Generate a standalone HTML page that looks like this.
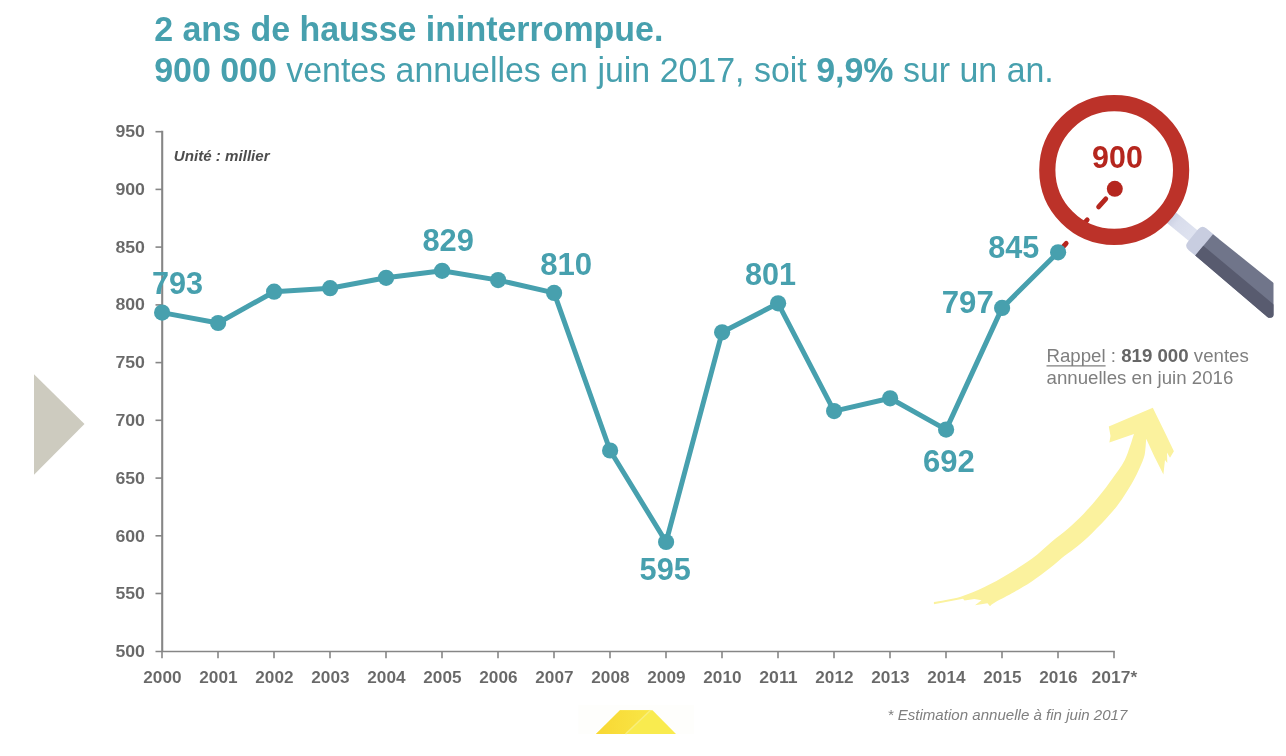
<!DOCTYPE html>
<html lang="fr"><head><meta charset="utf-8"><title>Ventes annuelles</title>
<style>
html,body{margin:0;padding:0;background:#fff;}
body{width:1286px;height:756px;overflow:hidden;position:relative;font-family:"Liberation Sans",sans-serif;}
svg{position:absolute;left:0;top:0;display:block;filter:blur(0.55px)}
text{font-family:"Liberation Sans",sans-serif;}
.ax{font-weight:bold;font-size:16.1px;fill:#686868;stroke:#fff;stroke-width:0.05px;paint-order:fill stroke}
.dl{font-weight:bold;font-size:30.8px;fill:#47a0ae}
</style></head><body>
<svg width="1286" height="756" viewBox="0 0 1286 756">

<text x="154.2" y="41.1" font-size="34.6" fill="#47a0ae" font-weight="bold" textLength="509.2" lengthAdjust="spacingAndGlyphs">2 ans de hausse ininterrompue.</text>
<text x="154.2" y="81.5" font-size="34.6" fill="#47a0ae" textLength="899.6" lengthAdjust="spacingAndGlyphs"><tspan font-weight="bold">900 000</tspan> ventes annuelles en juin 2017, soit <tspan font-weight="bold">9,9%</tspan> sur un an.</text>
<polygon points="34,374.3 84.5,424 34,474.8" fill="#cdcbbf"/>
<rect x="578.5" y="705" width="115.5" height="29" fill="#fefefc"/>
<defs><linearGradient id="yg" x1="0" x2="1" y1="0" y2="0"><stop offset="0" stop-color="#f8d733"/><stop offset="1" stop-color="#f9e646"/></linearGradient></defs>
<polygon points="596,734 620,710.2 652.5,710.2 676,734" fill="#f9eb4f"/>
<polygon points="596,734 620,710.2 650.3,710.2 625.3,734" fill="url(#yg)"/>
<line x1="650.5" y1="710.2" x2="625.5" y2="734" stroke="#f8ee7c" stroke-width="1.5"/>
<g stroke="#868686" stroke-width="1.6" fill="none">
<line x1="162.2" y1="130.8" x2="162.2" y2="651.5" stroke-width="2.1"/>
<line x1="155.5" y1="651.5" x2="1114.8" y2="651.5"/>
<line x1="155.5" y1="131.7" x2="162.0" y2="131.7"/>
<line x1="155.5" y1="189.4" x2="162.0" y2="189.4"/>
<line x1="155.5" y1="247.1" x2="162.0" y2="247.1"/>
<line x1="155.5" y1="304.9" x2="162.0" y2="304.9"/>
<line x1="155.5" y1="362.6" x2="162.0" y2="362.6"/>
<line x1="155.5" y1="420.3" x2="162.0" y2="420.3"/>
<line x1="155.5" y1="478.1" x2="162.0" y2="478.1"/>
<line x1="155.5" y1="535.8" x2="162.0" y2="535.8"/>
<line x1="155.5" y1="593.5" x2="162.0" y2="593.5"/>
<line x1="162.0" y1="651.5" x2="162.0" y2="658.2"/>
<line x1="218.0" y1="651.5" x2="218.0" y2="658.2"/>
<line x1="274.0" y1="651.5" x2="274.0" y2="658.2"/>
<line x1="330.0" y1="651.5" x2="330.0" y2="658.2"/>
<line x1="386.0" y1="651.5" x2="386.0" y2="658.2"/>
<line x1="442.0" y1="651.5" x2="442.0" y2="658.2"/>
<line x1="498.0" y1="651.5" x2="498.0" y2="658.2"/>
<line x1="554.0" y1="651.5" x2="554.0" y2="658.2"/>
<line x1="610.0" y1="651.5" x2="610.0" y2="658.2"/>
<line x1="666.0" y1="651.5" x2="666.0" y2="658.2"/>
<line x1="722.0" y1="651.5" x2="722.0" y2="658.2"/>
<line x1="778.0" y1="651.5" x2="778.0" y2="658.2"/>
<line x1="834.0" y1="651.5" x2="834.0" y2="658.2"/>
<line x1="890.0" y1="651.5" x2="890.0" y2="658.2"/>
<line x1="946.0" y1="651.5" x2="946.0" y2="658.2"/>
<line x1="1002.0" y1="651.5" x2="1002.0" y2="658.2"/>
<line x1="1058.0" y1="651.5" x2="1058.0" y2="658.2"/>
<line x1="1114.0" y1="651.5" x2="1114.0" y2="658.2"/>
</g>
<text class="ax" x="145" y="137.0" text-anchor="end" textLength="29.6" lengthAdjust="spacingAndGlyphs">950</text>
<text class="ax" x="145" y="194.8" text-anchor="end" textLength="29.6" lengthAdjust="spacingAndGlyphs">900</text>
<text class="ax" x="145" y="252.6" text-anchor="end" textLength="29.6" lengthAdjust="spacingAndGlyphs">850</text>
<text class="ax" x="145" y="310.3" text-anchor="end" textLength="29.6" lengthAdjust="spacingAndGlyphs">800</text>
<text class="ax" x="145" y="368.1" text-anchor="end" textLength="29.6" lengthAdjust="spacingAndGlyphs">750</text>
<text class="ax" x="145" y="425.9" text-anchor="end" textLength="29.6" lengthAdjust="spacingAndGlyphs">700</text>
<text class="ax" x="145" y="483.7" text-anchor="end" textLength="29.6" lengthAdjust="spacingAndGlyphs">650</text>
<text class="ax" x="145" y="541.5" text-anchor="end" textLength="29.6" lengthAdjust="spacingAndGlyphs">600</text>
<text class="ax" x="145" y="599.2" text-anchor="end" textLength="29.6" lengthAdjust="spacingAndGlyphs">550</text>
<text class="ax" x="145" y="657.0" text-anchor="end" textLength="29.6" lengthAdjust="spacingAndGlyphs">500</text>
<text class="ax" x="162.4" y="682.8" text-anchor="middle" textLength="38.3" lengthAdjust="spacingAndGlyphs">2000</text>
<text class="ax" x="218.4" y="682.8" text-anchor="middle" textLength="38.3" lengthAdjust="spacingAndGlyphs">2001</text>
<text class="ax" x="274.4" y="682.8" text-anchor="middle" textLength="38.3" lengthAdjust="spacingAndGlyphs">2002</text>
<text class="ax" x="330.4" y="682.8" text-anchor="middle" textLength="38.3" lengthAdjust="spacingAndGlyphs">2003</text>
<text class="ax" x="386.4" y="682.8" text-anchor="middle" textLength="38.3" lengthAdjust="spacingAndGlyphs">2004</text>
<text class="ax" x="442.4" y="682.8" text-anchor="middle" textLength="38.3" lengthAdjust="spacingAndGlyphs">2005</text>
<text class="ax" x="498.4" y="682.8" text-anchor="middle" textLength="38.3" lengthAdjust="spacingAndGlyphs">2006</text>
<text class="ax" x="554.4" y="682.8" text-anchor="middle" textLength="38.3" lengthAdjust="spacingAndGlyphs">2007</text>
<text class="ax" x="610.4" y="682.8" text-anchor="middle" textLength="38.3" lengthAdjust="spacingAndGlyphs">2008</text>
<text class="ax" x="666.4" y="682.8" text-anchor="middle" textLength="38.3" lengthAdjust="spacingAndGlyphs">2009</text>
<text class="ax" x="722.4" y="682.8" text-anchor="middle" textLength="38.3" lengthAdjust="spacingAndGlyphs">2010</text>
<text class="ax" x="778.4" y="682.8" text-anchor="middle" textLength="38.3" lengthAdjust="spacingAndGlyphs">2011</text>
<text class="ax" x="834.4" y="682.8" text-anchor="middle" textLength="38.3" lengthAdjust="spacingAndGlyphs">2012</text>
<text class="ax" x="890.4" y="682.8" text-anchor="middle" textLength="38.3" lengthAdjust="spacingAndGlyphs">2013</text>
<text class="ax" x="946.4" y="682.8" text-anchor="middle" textLength="38.3" lengthAdjust="spacingAndGlyphs">2014</text>
<text class="ax" x="1002.4" y="682.8" text-anchor="middle" textLength="38.3" lengthAdjust="spacingAndGlyphs">2015</text>
<text class="ax" x="1058.4" y="682.8" text-anchor="middle" textLength="38.3" lengthAdjust="spacingAndGlyphs">2016</text>
<text class="ax" x="1114.4" y="682.8" text-anchor="middle" textLength="45.6" lengthAdjust="spacingAndGlyphs">2017*</text>
<text x="173.8" y="161" font-size="15.1" font-weight="bold" font-style="italic" fill="#4d4d4d" textLength="95.8" lengthAdjust="spacingAndGlyphs">Unité : millier</text>
<g stroke="#b5261e" stroke-width="4.8" stroke-linecap="round">
<line x1="1105.8" y1="198.9" x2="1098.6" y2="206.9"/>
<line x1="1087.2" y1="219.8" x2="1076.8" y2="231.3"/>
<line x1="1066.2" y1="243.3" x2="1058.1" y2="252.3"/>
</g>
<defs><clipPath id="pc"><path d="M1100,100 H1273.5 V314.5 Q1273.5,317.8 1270,317.8 H1100 Z"/></clipPath>
<linearGradient id="nk" x1="0" x2="1" y1="0" y2="0"><stop offset="0" stop-color="#c6cbde"/><stop offset="0.35" stop-color="#d9ddec"/><stop offset="1" stop-color="#dfe3f0"/></linearGradient></defs>
<g clip-path="url(#pc)"><g transform="translate(1114.4 170.5) rotate(39.6)">
<rect x="70" y="-6.9" width="34" height="13.8" fill="url(#nk)"/>
<path d="M108,-14 H124 V14 H108 Q102,14 102,8 V-8 Q102,-14 108,-14 Z" fill="#c8cde0"/>
<polygon points="116.5,-13.8 240,-15.4 240,15.8 116.5,13.9" fill="#70758a"/>
<polygon points="116.5,1.3 240,1.8 240,15.8 116.5,13.9" fill="#585b6f"/>
</g></g>
<circle cx="1114.2" cy="170.0" r="66.9" fill="none" stroke="#bc3229" stroke-width="16.2"/>
<polyline fill="none" stroke="#47a0ae" stroke-width="5" stroke-linejoin="round" points="162.1,312.6 218.1,323.0 274.1,291.7 330.1,288.2 386.1,277.8 442.1,270.8 498.1,280.1 554.1,292.9 610.1,450.5 666.1,542.0 722.1,332.3 778.1,303.3 834.1,411.1 890.1,398.3 946.1,429.6 1002.1,307.9 1058.1,252.3"/>
<circle cx="162.1" cy="312.6" r="8.1" fill="#47a0ae"/>
<circle cx="218.1" cy="323.0" r="8.1" fill="#47a0ae"/>
<circle cx="274.1" cy="291.7" r="8.1" fill="#47a0ae"/>
<circle cx="330.1" cy="288.2" r="8.1" fill="#47a0ae"/>
<circle cx="386.1" cy="277.8" r="8.1" fill="#47a0ae"/>
<circle cx="442.1" cy="270.8" r="8.1" fill="#47a0ae"/>
<circle cx="498.1" cy="280.1" r="8.1" fill="#47a0ae"/>
<circle cx="554.1" cy="292.9" r="8.1" fill="#47a0ae"/>
<circle cx="610.1" cy="450.5" r="8.1" fill="#47a0ae"/>
<circle cx="666.1" cy="542.0" r="8.1" fill="#47a0ae"/>
<circle cx="722.1" cy="332.3" r="8.1" fill="#47a0ae"/>
<circle cx="778.1" cy="303.3" r="8.1" fill="#47a0ae"/>
<circle cx="834.1" cy="411.1" r="8.1" fill="#47a0ae"/>
<circle cx="890.1" cy="398.3" r="8.1" fill="#47a0ae"/>
<circle cx="946.1" cy="429.6" r="8.1" fill="#47a0ae"/>
<circle cx="1002.1" cy="307.9" r="8.1" fill="#47a0ae"/>
<circle cx="1058.1" cy="252.3" r="8.1" fill="#47a0ae"/>
<circle cx="1114.8" cy="188.8" r="8" fill="#b5261e"/>
<text class="dl" x="151.9" y="294.3" textLength="51.1" lengthAdjust="spacingAndGlyphs">793</text>
<text class="dl" x="422.4" y="251.3" textLength="51.4" lengthAdjust="spacingAndGlyphs">829</text>
<text class="dl" x="540.2" y="274.7" textLength="52.0" lengthAdjust="spacingAndGlyphs">810</text>
<text class="dl" x="639.6" y="579.8" textLength="51.2" lengthAdjust="spacingAndGlyphs">595</text>
<text class="dl" x="745.0" y="285.2" textLength="51.1" lengthAdjust="spacingAndGlyphs">801</text>
<text class="dl" x="922.9" y="471.5" textLength="51.8" lengthAdjust="spacingAndGlyphs">692</text>
<text class="dl" x="941.8" y="312.5" textLength="51.9" lengthAdjust="spacingAndGlyphs">797</text>
<text class="dl" x="988.3" y="257.8" textLength="51.0" lengthAdjust="spacingAndGlyphs">845</text>
<text class="dl" x="1092.1" y="167.5" style="fill:#b5261e" textLength="50.7" lengthAdjust="spacingAndGlyphs">900</text>
<text x="1046.5" y="362.3" font-size="18.67" fill="#7f7f7f" textLength="202.3" lengthAdjust="spacingAndGlyphs">Rappel : <tspan font-weight="bold" fill="#666">819 000</tspan> ventes</text>
<text x="1046.5" y="384.2" font-size="18.67" fill="#7f7f7f" textLength="186.8" lengthAdjust="spacingAndGlyphs">annuelles en juin 2016</text>
<line x1="1046.5" y1="365.8" x2="1105.6" y2="365.8" stroke="#7f7f7f" stroke-width="1.2"/>
<text x="887.6" y="720.1" font-size="15.03" font-style="italic" fill="#7f7f7f" textLength="239.8" lengthAdjust="spacingAndGlyphs">* Estimation annuelle à fin juin 2017</text>
<path fill="#fbf29e" d="M933.9,602.0 C938.4,601.1 952.3,599.2 960.7,596.7 C969.1,594.2 976.6,590.9 984.5,587.1 C992.4,583.3 1000.4,578.8 1008.3,574.0 C1016.2,569.2 1024.9,564.0 1032.1,558.6 C1039.3,553.2 1045.8,546.6 1051.7,541.7 C1057.6,536.8 1062.3,533.6 1067.6,529.0 C1072.9,524.4 1078.2,519.5 1083.5,514.0 C1088.8,508.4 1094.6,501.5 1099.4,495.7 C1104.2,489.9 1107.9,484.9 1112.1,479.0 C1116.3,473.1 1121.1,467.5 1124.8,460.0 C1128.5,452.5 1132.5,438.3 1134.0,434.0 L1109.4,442.6 L1110.5,436 L1108.8,426.5 L1152.8,407.8 L1166,434.7 L1173.9,451.2 L1170,457.8 L1167,452.5 L1167.3,463 L1165,460 L1163.4,474.4 L1154.1,455.9 L1146.2,438.7 C1146.0,440.8 1145.7,447.4 1145.2,451.0 C1144.7,454.6 1144.8,455.3 1143.0,460.0 C1141.2,464.7 1137.9,472.4 1134.3,479.0 C1130.7,485.6 1125.8,493.6 1121.6,499.7 C1117.4,505.8 1113.7,510.2 1108.9,515.6 C1104.1,521.0 1098.3,527.1 1093.0,532.2 C1087.7,537.4 1081.8,542.6 1077.1,546.5 C1072.4,550.4 1069.5,552.0 1065.0,555.6 C1060.5,559.2 1055.5,563.8 1050.0,568.1 C1044.5,572.4 1038.0,577.2 1032.1,581.2 C1026.1,585.2 1020.2,588.5 1014.3,591.9 C1008.3,595.3 999.4,599.8 996.4,601.4 L991.7,604.4 L990,606.2 L987.5,603.2 L975,605.2 L981.5,600.3 L974.4,599 L964.5,600.4 L963,598.8 L933.9,604.2 Z"/>
</svg></body></html>
